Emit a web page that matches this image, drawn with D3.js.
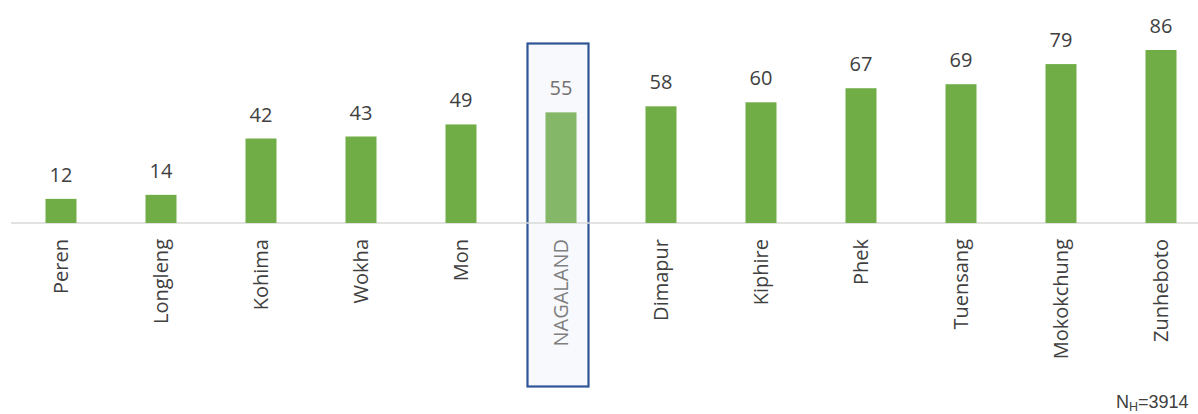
<!DOCTYPE html>
<html><head><meta charset="utf-8">
<script src="https://cdn.jsdelivr.net/npm/d3@7"></script>
<style>body{margin:0;background:#fff}svg{display:block}</style>
</head><body>
<script>
const categories = ["Peren","Longleng","Kohima","Wokha","Mon","NAGALAND","Dimapur","Kiphire","Phek","Tuensang","Mokokchung","Zunheboto"];
const values = [12,14,42,43,49,55,58,60,67,69,79,86];
const highlight = "NAGALAND";
const sampleLabel = "3914";

const W = 1198, H = 414;
const svg = d3.select("body").append("svg").attr("width", W).attr("height", H);
const font = "'Open Sans', sans-serif";

const x = d3.scaleBand().domain(categories).range([11, 1211]).paddingInner(0.69).paddingOuter(0.345);
const y = d3.scaleLinear().domain([0, 86]).range([223, 50]);

// highlight box
const hb = x(highlight) + x.bandwidth()/2;
svg.append("rect").attr("x", hb - 33.5).attr("y", 43.5).attr("width", 61).attr("height", 343)
  .attr("fill", "#f7f9fc").attr("stroke", "#2f5597").attr("stroke-width", 2.2);

// axis line
svg.append("line").attr("x1", 11).attr("x2", W).attr("y1", y(0)).attr("y2", y(0))
  .attr("stroke", "#d9d9d9").attr("stroke-width", 1.5);

svg.selectAll("rect.bar").data(categories).enter().append("rect").attr("class","bar")
  .attr("x", d => x(d)).attr("width", x.bandwidth())
  .attr("y", (d,i) => y(values[i])).attr("height", (d,i) => y(0) - y(values[i]))
  .attr("fill", d => d === highlight ? "#84b767" : "#70ad47");

svg.selectAll("text.val").data(categories).enter().append("text").attr("class","val")
  .attr("x", d => x(d) + x.bandwidth()/2).attr("y", (d,i) => y(values[i]) - 17)
  .attr("text-anchor","middle").attr("font-family", font).attr("font-size", 20)
  .attr("fill", d => d === highlight ? "#767171" : "#404040")
  .text((d,i) => values[i]);

svg.selectAll("text.cat").data(categories).enter().append("text").attr("class","cat")
  .attr("transform", d => `translate(${x(d) + x.bandwidth()/2 + 7},${y(0) + 16}) rotate(-90)`)
  .attr("text-anchor","end").attr("font-family", font).attr("font-size", 20)
  .attr("fill", d => d === highlight ? "#7f7f7f" : "#404040")
  .text(d => d);

const nt = svg.append("text").attr("x", 1116).attr("y", 408).attr("font-family", "'Liberation Sans', Arial, sans-serif")
  .attr("font-size", 18).attr("fill", "#404040");
nt.append("tspan").text("N");
nt.append("tspan").attr("font-size", 12.5).attr("dy", 3).text("H");
nt.append("tspan").attr("dy", -3).text("=" + sampleLabel);
</script>
</body></html>
